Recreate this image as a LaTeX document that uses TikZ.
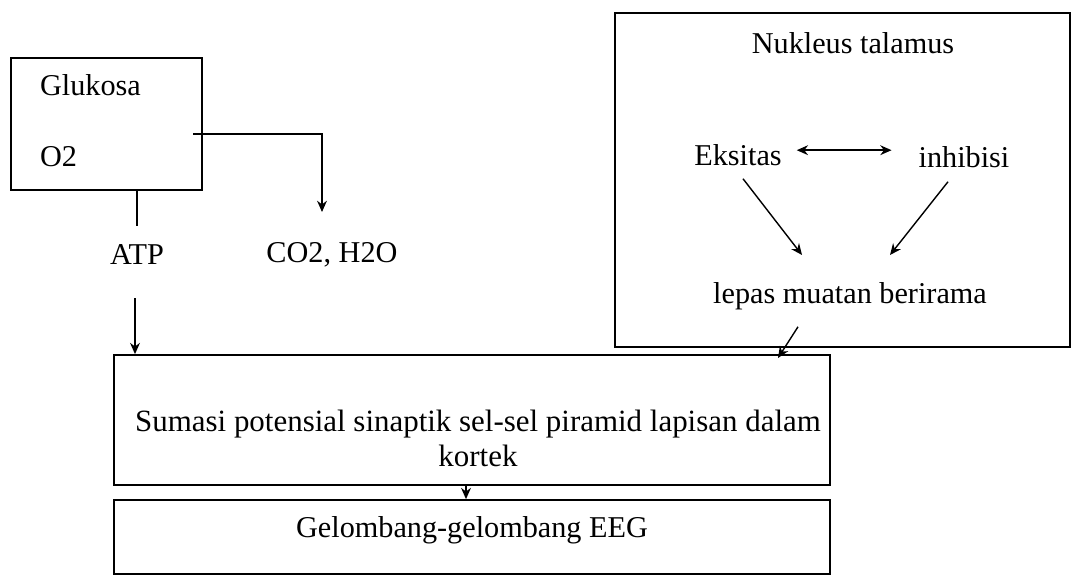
\documentclass[tikz,border=0pt]{standalone}
\usepackage{fontspec}
\setmainfont{Liberation Serif}
\usetikzlibrary{arrows.meta}
\tikzset{
  box/.style={draw,line width=1.2pt,inner sep=0pt},
  lbl/.style={inner sep=2pt,font=\fontsize{21.5}{25}\selectfont},
  link/.style={line width=1pt},
  arr/.style={link,-{Stealth[length=8pt,width=7pt]}},
  dblarr/.style={link,{Stealth[length=8pt,width=7pt]}-{Stealth[length=8pt,width=7pt]}}
}
\begin{document}
\begin{tikzpicture}[x=0.025cm,y=-0.025cm]
\useasboundingbox (0,0) rectangle (1072,576);
% boxes
\node[box,minimum width=4.775cm,minimum height=3.3cm] (glukosa) at (106.5,124) {};
\node[box,minimum width=11.375cm,minimum height=8.35cm] (talamus) at (842.5,180) {};
\node[box,minimum width=17.9cm,minimum height=3.25cm] (sumasi) at (472,420) {};
\node[box,minimum width=17.9cm,minimum height=1.85cm] (gelombang) at (472,537) {};
% texts
\node[lbl,anchor=west] (glu) at (37,85) {Glukosa};
\node[lbl,anchor=west] (o2) at (37,157) {O2};
\node[lbl] (atp) at (137,255) {ATP};
\node[lbl] (co2) at (332,255) {CO2, H2O};
\node[lbl] (nukleus) at (853,43) {Nukleus talamus};
\node[lbl] (eks) at (738,155) {Eksitas};
\node[lbl] (inh) at (964,157) {inhibisi};
\node[lbl] (lepas) at (850,296) {lepas muatan berirama};
\node[lbl,align=center,font=\fontsize{22}{25}\selectfont] (sumtxt) at (478,438)
  {Sumasi potensial sinaptik sel-sel piramid lapisan dalam\\kortek};
\node[lbl] (geltxt) at (472,530) {Gelombang-gelombang EEG};
% connectors
\coordinate (glout) at (193,134);
\coordinate (co2in) at (322,212);
\draw[arr] (glout) -| (co2in);
\draw[link] (glukosa.south -| atp) -- ++(0,35);
\draw[arr] (atp.south) ++(-2,30) -- (sumasi.north -| 135,0);
\draw[dblarr,shorten <=0.3cm,shorten >=0.6cm] ([yshift=0.12cm]eks.east) -- ([yshift=0.12cm]eks.east -| inh.west);
\coordinate (eksto) at (802,255);
\coordinate (inhto) at (890,255);
\draw[arr] (eks.south) ++(5,10) -- (eksto);
\draw[arr] (inh.south) ++(-16,11) -- (inhto);
\coordinate (lepto) at (778,358);
\draw[arr] (lepas.south) ++(-52,14) -- (lepto);
\draw[arr] ([xshift=-0.15cm]sumasi.south) -- ([xshift=-0.15cm]gelombang.north);
\end{tikzpicture}
\end{document}
